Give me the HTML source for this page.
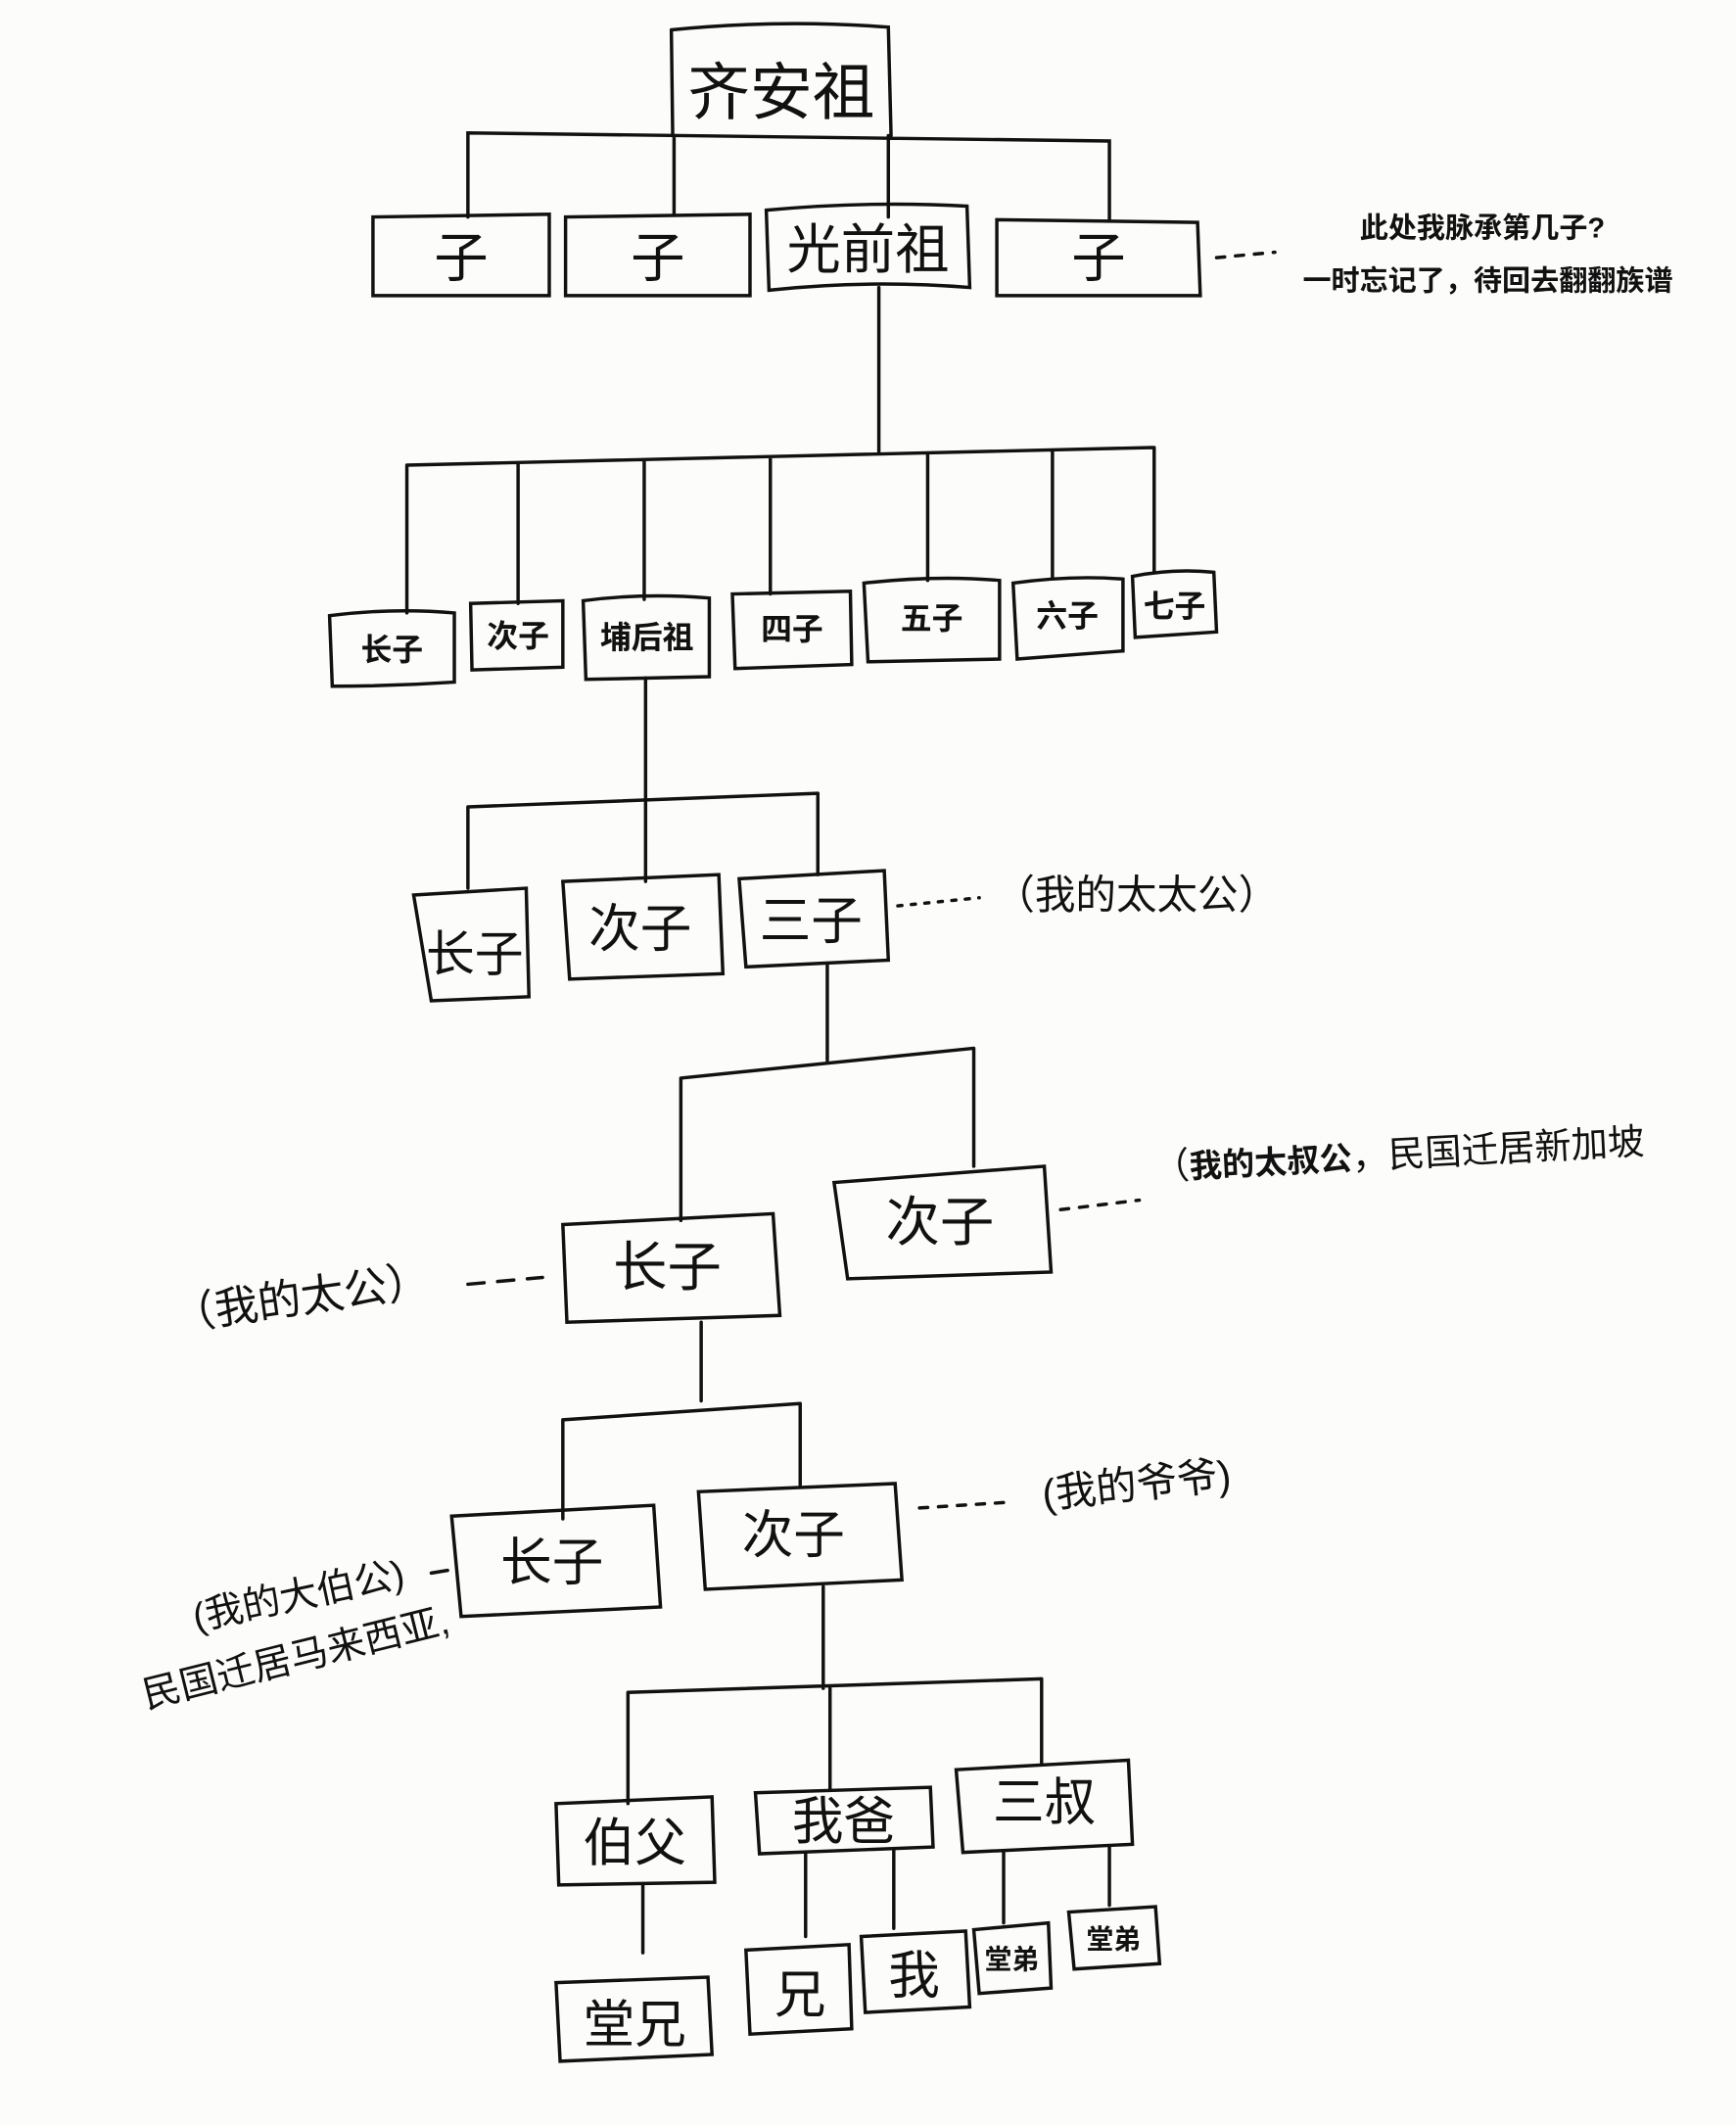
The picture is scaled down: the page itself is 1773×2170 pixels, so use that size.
<!DOCTYPE html>
<html><head><meta charset="utf-8"><style>
html,body{margin:0;padding:0;background:#fcfcfa;}
svg{display:block;}
text{font-family:"Liberation Sans","Noto Sans CJK SC",sans-serif;fill:#111;}
.h{font-weight:400;}
.b{font-weight:700;}
</style></head><body>
<svg width="1773" height="2170" viewBox="0 0 1280 1567" preserveAspectRatio="none" xmlns="http://www.w3.org/2000/svg">
<rect width="1280" height="1567" fill="#fcfcfa"/>
<g fill="none" stroke="#111" stroke-width="2.5" stroke-linecap="round">
<path d="M495,22 Q575,14 655,20 L657,100 M495,22 L496,100"/>
<path d="M345,160 L345,98 L818,104 L818,162 M497,100 L497,158 M655,100 L655,160"/>
<path d="M275,160 L405,158 L405,218 L275,218 Z"/>
<path d="M417,160 L553,158 L553,218 L417,218 Z"/>
<path d="M565,155 Q640,148 713,152 L715,212 Q640,206 567,214 Z"/>
<path d="M735,162 L883,164 L885,218 L735,218 Z"/>
<path d="M897,190 L940,186" stroke-dasharray="6,8"/>
<path d="M648,212 L648,333 M300,343 L850,330 M300,343 L300,452 M382,342 L382,445 M475,340 L475,442 M568,338 L568,438 M684,335 L684,428 M776,333 L776,426 M851,330 L851,422"/>
<path d="M243,454 Q290,448 335,452 L335,503 Q290,506 245,506 Z"/>
<path d="M347,445 L415,443 L415,492 L348,494 Z"/>
<path d="M430,443 Q475,437 523,441 L523,499 L432,501 Z"/>
<path d="M540,438 L627,436 L628,490 L542,493 Z"/>
<path d="M637,430 Q690,424 737,428 L737,486 L640,488 Z"/>
<path d="M747,430 Q790,424 828,427 L828,480 L750,486 Z"/>
<path d="M835,425 Q865,419 895,422 L897,466 L837,470 Z"/>
<path d="M476,500 L476,650 M345,595 L603,585 M345,595 L345,655 M603,585 L603,645"/>
<path d="M305,660 L388,655 L390,735 L318,738 Z"/>
<path d="M415,650 L530,645 L533,718 L420,722 Z"/>
<path d="M545,648 L652,642 L655,708 L550,713 Z"/>
<path d="M662,668 L722,662" stroke-dasharray="3,7"/>
<path d="M610,712 L610,782 M502,795 L718,773 M502,795 L502,900 M718,773 L718,860"/>
<path d="M615,872 L770,860 L775,938 L625,943 Z"/>
<path d="M415,903 L570,895 L575,970 L418,975 Z"/>
<path d="M782,892 L840,885" stroke-dasharray="6,8"/>
<path d="M345,947 L400,942" stroke-dasharray="12,10"/>
<path d="M517,975 L517,1033 M415,1047 L590,1035 M415,1047 L415,1120 M590,1035 L590,1095"/>
<path d="M333,1118 L482,1110 L487,1185 L340,1192 Z"/>
<path d="M515,1100 L660,1094 L665,1165 L520,1172 Z"/>
<path d="M678,1112 L740,1108" stroke-dasharray="6,8"/>
<path d="M318,1160 L330,1158" />
<path d="M607,1170 L607,1245 M463,1248 L768,1238 M463,1248 L463,1330 M612,1245 L612,1320 M768,1238 L768,1300"/>
<path d="M410,1330 L525,1325 L527,1388 L412,1390 Z"/>
<path d="M557,1322 L686,1318 L688,1362 L560,1367 Z"/>
<path d="M705,1305 L832,1298 L835,1360 L710,1366 Z"/>
<path d="M474,1390 L474,1440 M594,1367 L594,1428 M659,1364 L659,1422 M740,1366 L740,1418 M818,1362 L818,1405"/>
<path d="M410,1462 L522,1458 L525,1515 L413,1520 Z"/>
<path d="M550,1438 L626,1434 L628,1496 L553,1500 Z"/>
<path d="M635,1428 L712,1424 L715,1480 L638,1484 Z"/>
<path d="M718,1423 L773,1418 L775,1466 L722,1470 Z"/>
<path d="M788,1410 L852,1406 L855,1448 L792,1452 Z"/>
</g>
<g text-anchor="middle">
<text x="576" y="84" font-size="46" class="h">齐安祖</text>
<text x="340" y="204" font-size="40" class="h">子</text>
<text x="485" y="204" font-size="40" class="h">子</text>
<text x="640" y="198" font-size="40" class="h">光前祖</text>
<text x="810" y="204" font-size="40" class="h">子</text>
<text x="1093" y="175" font-size="21" class="b">此处我脉承第几子?</text>
<text x="1097" y="214" font-size="21" class="b">一时忘记了，待回去翻翻族谱</text>
<text x="289" y="487" font-size="23" class="b">长子</text>
<text x="382" y="477" font-size="23" class="b">次子</text>
<text x="477" y="478" font-size="23" class="b">埔后祖</text>
<text x="584" y="472" font-size="23" class="b">四子</text>
<text x="687" y="464" font-size="23" class="b">五子</text>
<text x="787" y="462" font-size="23" class="b">六子</text>
<text x="866" y="455" font-size="23" class="b">七子</text>
<text x="350" y="716" font-size="36" class="h">长子</text>
<text x="472" y="698" font-size="38" class="h">次子</text>
<text x="598" y="692" font-size="38" class="h">三子</text>
<text x="838" y="670" font-size="30" class="h">（我的太太公）</text>
<text x="693" y="915" font-size="40" class="h">次子</text>
<text x="492" y="948" font-size="40" class="h">长子</text>
<text x="850" y="870" font-size="27" text-anchor="start" class="h" transform="rotate(-3 850 860)">（<tspan class="b" font-size="24">我的太叔公</tspan>，民国迁居新加坡</text>
<text x="222" y="968" font-size="32" class="h" transform="rotate(-8 222 958)">（我的太公）</text>
<text x="407" y="1165" font-size="38" class="h">长子</text>
<text x="585" y="1145" font-size="38" class="h">次子</text>
<text x="838" y="1105" font-size="30" class="h" transform="rotate(-6 838 1095)">(我的爷爷)</text>
<text x="220" y="1186" font-size="28" class="h" transform="rotate(-12 220 1176)">(我的大伯公)</text>
<text x="218" y="1232" font-size="28" class="h" transform="rotate(-14 218 1222)">民国迁居马来西亚,</text>
<text x="468" y="1372" font-size="38" class="h">伯父</text>
<text x="622" y="1356" font-size="38" class="h">我爸</text>
<text x="770" y="1342" font-size="38" class="h">三叔</text>
<text x="468" y="1506" font-size="38" class="h">堂兄</text>
<text x="590" y="1484" font-size="38" class="h">兄</text>
<text x="674" y="1470" font-size="38" class="h">我</text>
<text x="746" y="1452" font-size="20" class="b">堂弟</text>
<text x="821" y="1437" font-size="20" class="b">堂弟</text>
</g>
</svg>
</body></html>
